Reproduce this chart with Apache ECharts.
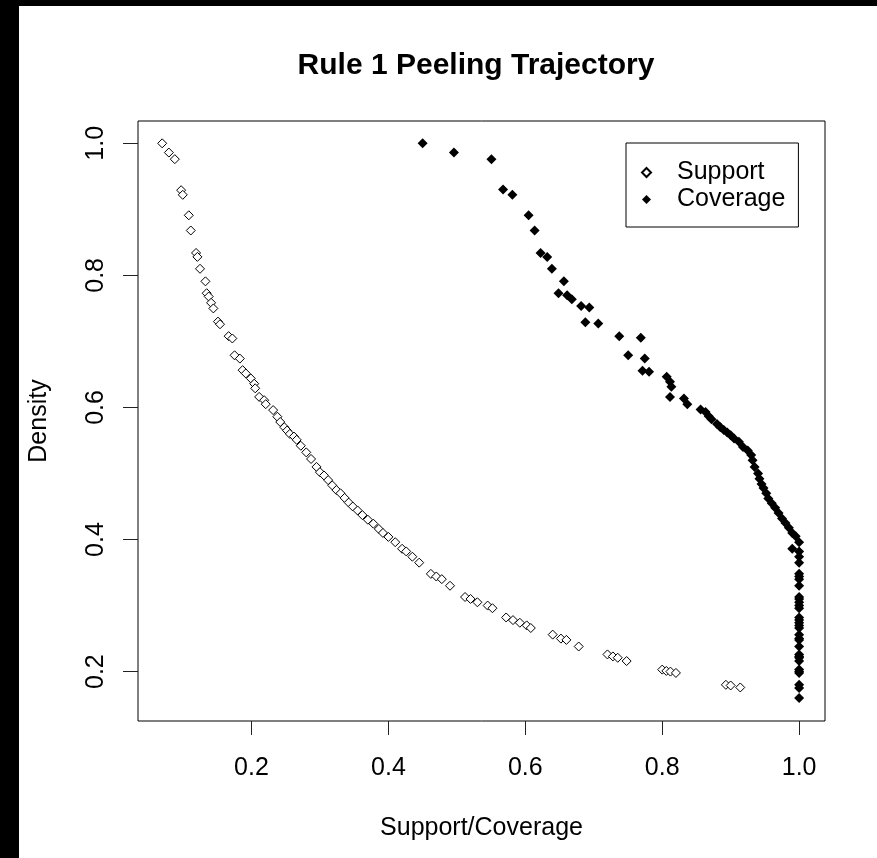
<!DOCTYPE html>
<html>
<head>
<meta charset="utf-8">
<script src="https://cdn.jsdelivr.net/npm/echarts@6/dist/echarts.min.js"></script>
<style>
  html, body { margin: 0; padding: 0; background: #000; }
  #main { position: absolute; left: 19px; top: 6px; width: 858px; height: 852px; background: #fff; }
</style>
</head>
<body>
<div id="main"></div>
<script>
// support (open diamonds)
const supportX = [0.0695, 0.0793, 0.088, 0.0972, 0.0996, 0.1084, 0.1113, 0.119, 0.121, 0.1248, 0.1327, 0.1345, 0.1375, 0.141, 0.1443, 0.151, 0.154, 0.1666, 0.172, 0.1753, 0.183, 0.187, 0.1917, 0.199, 0.204, 0.2054, 0.2112, 0.2185, 0.2208, 0.2316, 0.2378,
  0.242, 0.248, 0.252, 0.256, 0.262, 0.266, 0.272, 0.280, 0.287, 0.295, 0.300, 0.306, 0.312, 0.318, 0.324, 0.330, 0.336, 0.342, 0.348, 0.355, 0.362, 0.370, 0.378, 0.386, 0.392, 0.400, 0.410, 0.420, 0.426, 0.435, 0.445, 0.462, 0.470, 0.478, 0.490, 0.512, 0.520, 0.530, 0.545, 0.552, 0.572, 0.582, 0.592, 0.602, 0.608, 0.640, 0.652, 0.660, 0.678, 0.720, 0.728, 0.735, 0.748, 0.800, 0.806, 0.812, 0.820, 0.893, 0.900, 0.914];
const supportY = [1.0, 0.986, 0.976, 0.929, 0.922, 0.891, 0.868, 0.834, 0.828, 0.81, 0.791, 0.773, 0.768, 0.7585, 0.75, 0.73, 0.726, 0.708, 0.7045, 0.679, 0.674, 0.6565, 0.6515, 0.644, 0.636, 0.629, 0.616, 0.611, 0.605, 0.596, 0.586,
  0.578, 0.570, 0.565, 0.560, 0.556, 0.551, 0.542, 0.532, 0.522, 0.510, 0.502, 0.497, 0.490, 0.482, 0.475, 0.470, 0.463, 0.456, 0.450, 0.444, 0.437, 0.430, 0.424, 0.416, 0.410, 0.404, 0.396, 0.386, 0.382, 0.374, 0.365, 0.348, 0.344, 0.340, 0.330, 0.313, 0.310, 0.305, 0.300, 0.296, 0.282, 0.278, 0.274, 0.270, 0.266, 0.256, 0.250, 0.248, 0.238, 0.226, 0.223, 0.221, 0.216, 0.203, 0.201, 0.200, 0.198, 0.180, 0.179, 0.176];

// coverage (filled diamonds)
const coverageX = [0.450, 0.4957, 0.5505, 0.5675, 0.5811, 0.6048, 0.6136, 0.6223, 0.632, 0.6388, 0.6563, 0.6485, 0.6611, 0.6679, 0.6815, 0.6935, 0.6877, 0.7066, 0.7372, 0.7687, 0.7503, 0.7745, 0.7712, 0.7808, 0.8065, 0.8114, 0.8134, 0.8114, 0.8317, 0.8367, 0.856, 0.8633, 0.868,
  0.872, 0.880, 0.885, 0.890, 0.895, 0.900, 0.905, 0.912, 0.918, 0.925, 0.930, 0.932, 0.935, 0.940, 0.942, 0.945, 0.948, 0.952, 0.955, 0.960, 0.965, 0.970, 0.975, 0.980, 0.985, 0.990, 0.995,
  1.0, 0.99, 1.0, 1.0, 1.0, 1.0, 1.0, 1.0, 1.0, 1.0, 1.0, 1.0, 1.0, 1.0, 1.0, 1.0, 1.0, 1.0, 1.0, 1.0, 1.0, 1.0, 1.0, 1.0, 1.0, 1.0, 1.0, 1.0, 1.0, 1.0, 1.0, 1.0, 1.0, 0.98, 1.0];
const coverageY = [1.0, 0.986, 0.976, 0.930, 0.922, 0.891, 0.868, 0.834, 0.828, 0.81, 0.791, 0.773, 0.770, 0.764, 0.7535, 0.7515, 0.729, 0.727, 0.708, 0.7055, 0.679, 0.674, 0.6555, 0.654, 0.6464, 0.6388, 0.6312, 0.616, 0.6136, 0.605, 0.597, 0.5933, 0.5868,
  0.582, 0.575, 0.570, 0.566, 0.562, 0.558, 0.553, 0.548, 0.540, 0.535, 0.528, 0.520, 0.510, 0.500, 0.492, 0.484, 0.478, 0.470, 0.462, 0.455, 0.448, 0.440, 0.432, 0.425, 0.418, 0.410, 0.405,
  0.396, 0.386, 0.382, 0.374, 0.365, 0.348, 0.344, 0.340, 0.330, 0.313, 0.310, 0.305, 0.300, 0.296, 0.282, 0.278, 0.274, 0.270, 0.266, 0.256, 0.250, 0.248, 0.238, 0.226, 0.223, 0.221, 0.216, 0.203, 0.200, 0.198, 0.180, 0.175, 0.160];

const xTicks = [0.2, 0.4, 0.6, 0.8, 1.0];
const yTicks = [0.2, 0.4, 0.6, 0.8, 1.0];

const chart = echarts.init(document.getElementById('main'));

const supportData = supportX.map((x, i) => [x, supportY[i]]);
const coverageData = coverageX.map((x, i) => [x, coverageY[i]]);

const font = 'Liberation Sans, Arial, sans-serif';

const option = {
  animation: false,
  backgroundColor: '#fff',
  textStyle: { fontFamily: font },
  graphic: [{
    type: 'text',
    x: 457,
    y: 60,
    style: {
      text: 'Rule 1 Peeling Trajectory',
      font: 'bold 30px ' + font,
      fill: '#000',
      textAlign: 'center',
      textVerticalAlign: 'middle'
    }
  }],
  grid: {
    left: 116, right: 52, top: 115, bottom: 137,
    show: true, borderColor: '#000', borderWidth: 1
  },
  legend: {
    orient: 'vertical',
    left: 607, top: 137,
    padding: [17, 13, 15, 15],
    itemGap: 2,
    itemWidth: 9, itemHeight: 9,
    borderColor: '#000', borderWidth: 1,
    textStyle: { fontSize: 25, color: '#000', fontFamily: font, padding: [0, 0, 0, 21] },
    data: ['Support', 'Coverage']
  },
  xAxis: {
    type: 'value',
    min: 0.0342, max: 1.0378,
    name: 'Support/Coverage',
    nameLocation: 'middle',
    nameGap: 95,
    nameTextStyle: { fontSize: 25, color: '#000' },
    axisLine: { show: false },
    splitLine: { show: false },
    axisTick: { show: true, length: 14, lineStyle: { color: '#222' }, customValues: xTicks },
    axisLabel: { fontSize: 25, color: '#000', margin: 35, customValues: xTicks, formatter: v => v.toFixed(1) }
  },
  yAxis: {
    type: 'value',
    min: 0.1252, max: 1.0338,
    name: 'Density',
    nameLocation: 'middle',
    nameGap: 86,
    nameRotate: 90,
    nameTextStyle: { fontSize: 25, color: '#000' },
    axisLine: { show: false },
    splitLine: { show: false },
    axisTick: { show: true, length: 15, lineStyle: { color: '#222' }, customValues: yTicks },
    axisLabel: { fontSize: 25, color: '#000', margin: 29, rotate: 90, customValues: yTicks, formatter: v => v.toFixed(1) }
  },
  series: [
    {
      name: 'Support',
      type: 'scatter',
      symbol: 'diamond',
      symbolSize: 9,
      itemStyle: { color: '#fff', borderColor: '#000', borderWidth: 1, opacity: 1 },
      data: supportData
    },
    {
      name: 'Coverage',
      type: 'scatter',
      symbol: 'diamond',
      symbolSize: 10,
      itemStyle: { color: '#000', opacity: 1 },
      data: coverageData
    }
  ]
};

chart.setOption(option);
</script>
</body>
</html>
